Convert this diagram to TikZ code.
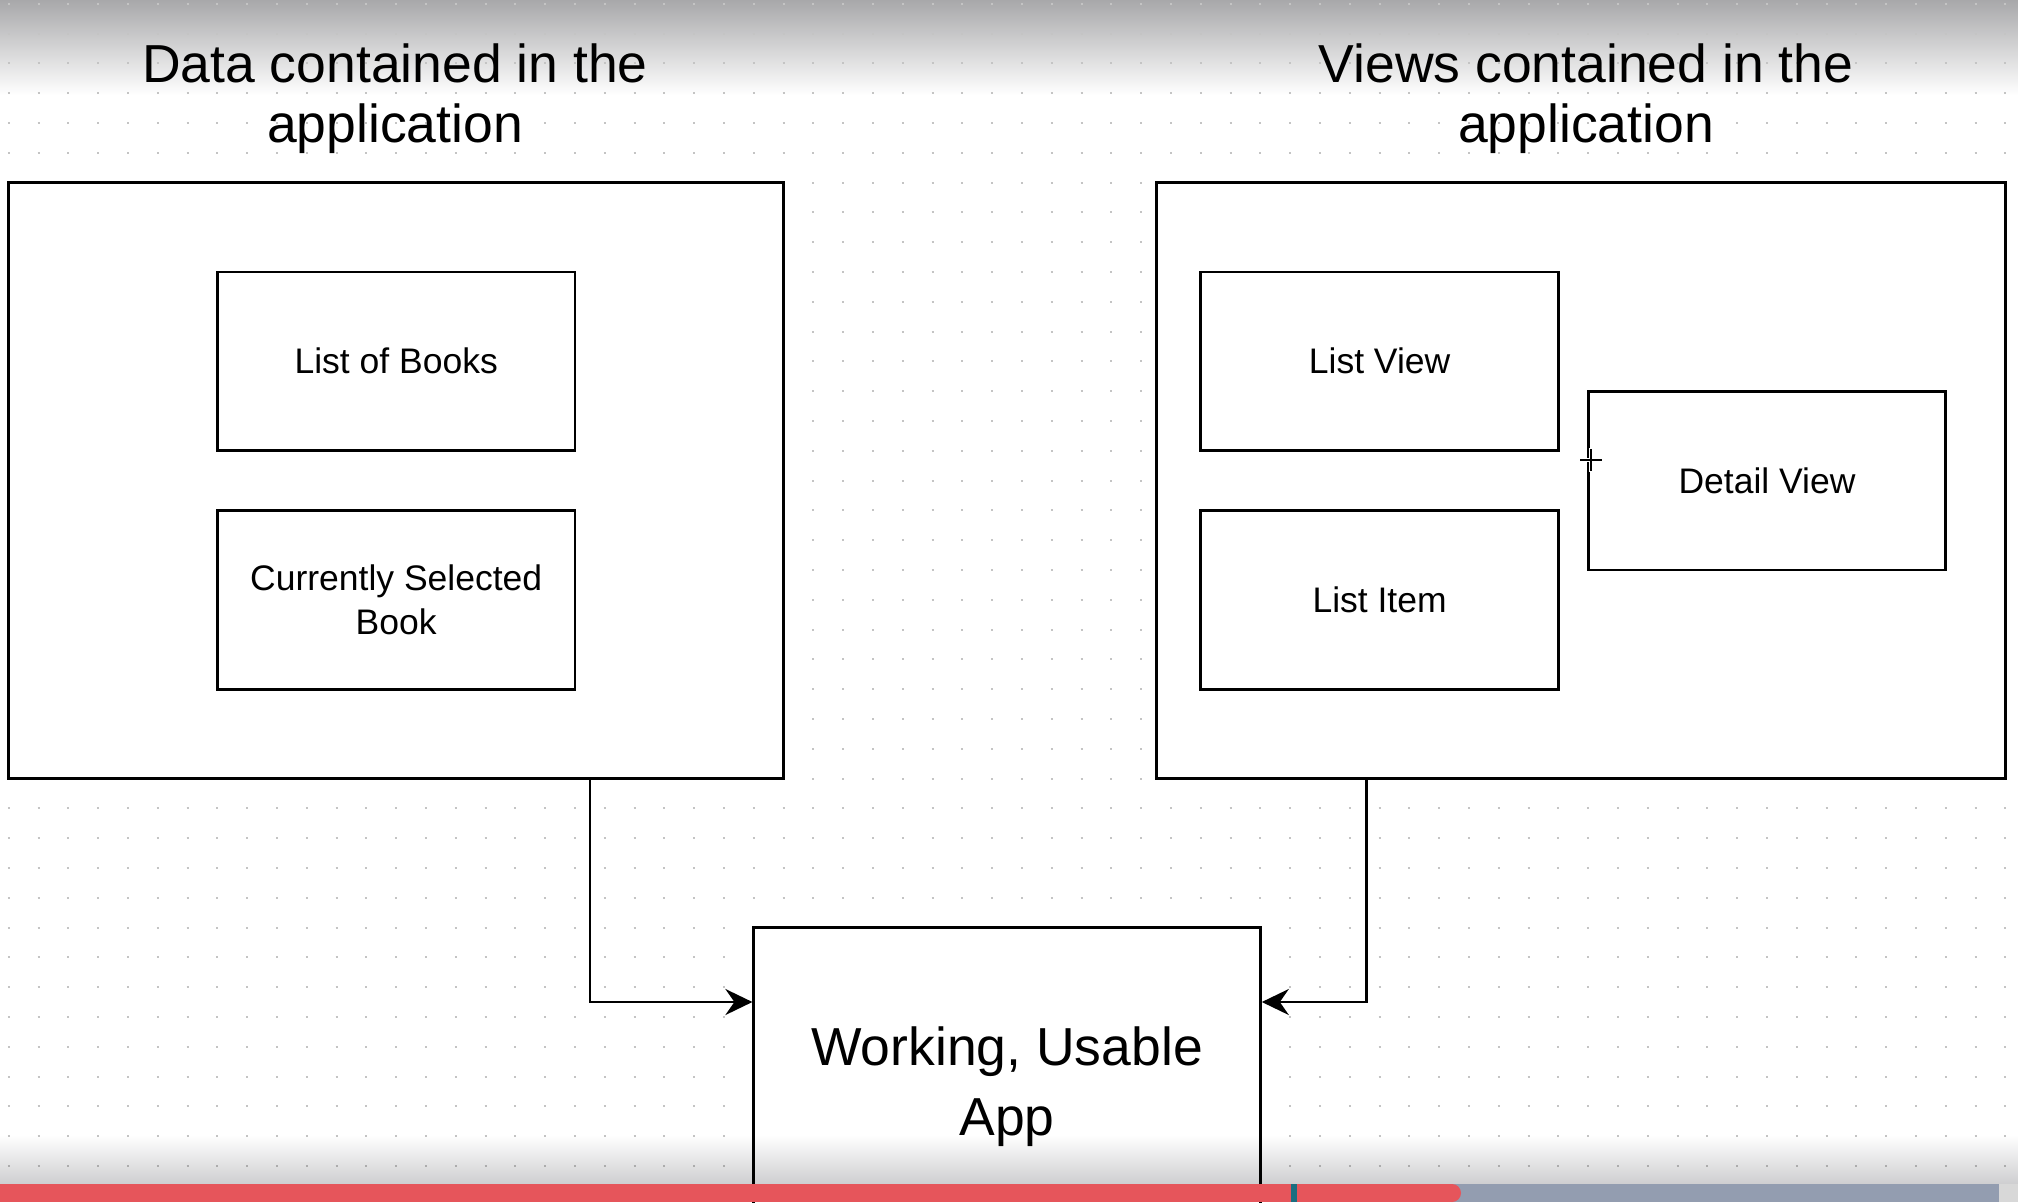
\documentclass[tikz,border=0pt]{standalone}
\usepackage{fontspec}
\setmainfont{Liberation Sans}
\usetikzlibrary{arrows.meta}

\definecolor{shadetop}{RGB}{168,168,170}
\definecolor{shadebot}{RGB}{206,206,208}
\definecolor{griddot}{RGB}{196,196,196}
\definecolor{barred}{RGB}{230,85,91}
\definecolor{bargray}{RGB}{147,157,176}
\definecolor{barend}{RGB}{216,216,216}
\definecolor{barmark}{RGB}{27,110,128}

\tikzset{
  box/.style={draw=black, line width=2.8pt, fill=white, inner sep=0pt, align=center},
  smallbox/.style={box, minimum width=357.6pt, minimum height=178.8pt,
    font=\fontsize{35.5pt}{43.3pt}\selectfont},
  heading/.style={align=center, inner sep=0pt,
    font=\fontsize{53.5pt}{60.8pt}\selectfont},
  flow/.style={draw=black, line width=2.8pt,
    -{Stealth[length=27pt,width=26pt,inset=9pt]}},
  dotrow/.style={draw=griddot, line width=2pt, dash pattern=on 2pt off 27.8pt},
}

\begin{document}
\begin{tikzpicture}[x=1pt, y=-1pt]
  \clip (0,0) rectangle (2018,1202);
  \fill[white] (0,0) rectangle (2018,1202);

  % toolbar shadow at the top
  \shade[top color=shadetop, bottom color=white] (0,0) rectangle (2018,95);

  % dotted canvas grid
  \foreach \k in {0,...,40}
    \draw[dotrow] (7.8,3.7+29.8*\k) -- (2018,3.7+29.8*\k);

  % titles
  \node[heading] (datatitle) at (395,98.6) {Data contained in the\\application};
  \node[heading] (viewtitle) at (1586,98.6) {Views contained in the\\application};

  % data container
  \node[box, minimum width=774.8pt, minimum height=596pt] (databox) at (396.2,480.5) {};
  \node[smallbox] (books) at (396.2,361.3) {List of Books};
  \node[smallbox] (selected) at (396.2,599.7) {Currently Selected\\Book};

  % views container
  \node[box, minimum width=849.3pt, minimum height=596pt] (viewbox) at (1580.75,480.5) {};
  \node[smallbox] (listview) at (1379.6,361.3) {List View};
  \node[smallbox] (listitem) at (1379.6,599.7) {List Item};
  \node[smallbox] (detail) at (1767,480.5) {Detail View};

  % resulting app
  \node[box, minimum width=506.6pt, minimum height=318pt,
        font=\fontsize{53.5pt}{70pt}\selectfont]
        (app) at (1007.1,1086.5) {Working, Usable\\App};

  % connectors into the app
  \draw[flow] ([xshift=582.5pt]databox.south west) |- ([yshift=-75.9pt]app.north west);
  \draw[flow] ([xshift=211.8pt]viewbox.south west) |- ([yshift=-75.9pt]app.north east);

  % crosshair pointer
  \draw[white, line width=4pt] (1579,460) -- (1603,460) (1591,448) -- (1591,472);
  \draw[black, line width=1.5pt] (1580,460) -- (1602,460) (1591,449) -- (1591,471);

  % footer shadow darkening whatever lies beneath it
  \begin{scope}[blend mode=multiply]
    \shade[top color=white, bottom color=shadebot] (0,1135) rectangle (2018,1184);
  \end{scope}

  % player progress bar
  \fill[bargray] (0,1184) rectangle (1999,1202);
  \fill[barend] (1999,1184) rectangle (2018,1202);
  \fill[barred] (0,1184) rectangle (1452,1202);
  \fill[barred] (1452,1193) circle (9);
  \fill[barmark] (1291,1184) rectangle (1297,1202);
\end{tikzpicture}
\end{document}
